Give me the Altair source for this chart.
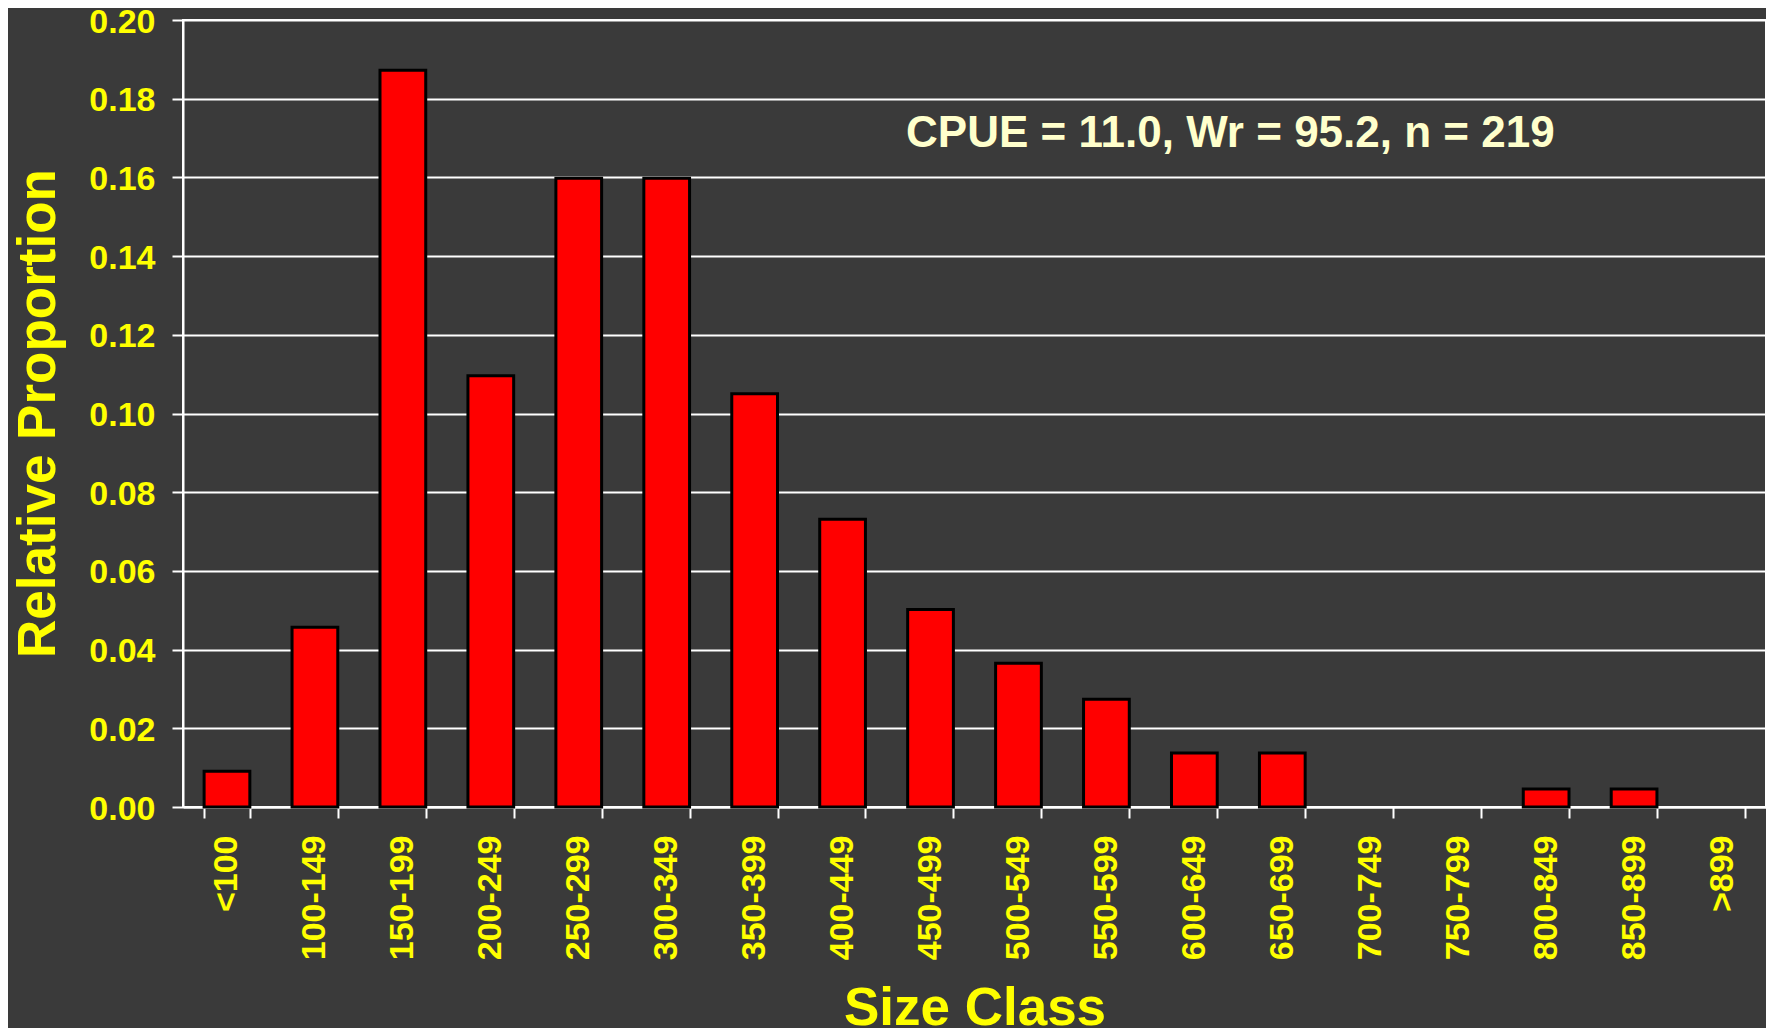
import altair as alt
import pandas as pd

categories = ["<100", "100-149", "150-199", "200-249", "250-299", "300-349",
              "350-399", "400-449", "450-499", "500-549", "550-599", "600-649",
              "650-699", "700-749", "750-799", "800-849", "850-899", ">899"]
proportions = [0.0091, 0.0457, 0.1872, 0.1096, 0.1598, 0.1598,
               0.1050, 0.0731, 0.0502, 0.0365, 0.0274, 0.0137,
               0.0137, 0.0, 0.0, 0.0046, 0.0046, 0.0]
y_ticks = [0.0, 0.02, 0.04, 0.06, 0.08, 0.10, 0.12, 0.14, 0.16, 0.18, 0.20]
annotation_text = ["CPUE = 11.0, Wr = 95.2, n = 219"]
annotation_x = ["600-649"]
annotation_y = [0.171]

FONT = "Liberation Sans"
YELLOW = "#ffff00"

df = pd.DataFrame({"size_class": categories, "proportion": proportions})
ann = pd.DataFrame({"size_class": annotation_x, "proportion": annotation_y,
                    "label": annotation_text})

x_scale = alt.Scale(domain=categories, paddingInner=0.48, paddingOuter=0.24)
y_scale = alt.Scale(domain=[0, 0.2], nice=False)

x_axis = alt.Axis(
    title="Size Class", titleFont=FONT, titleFontSize=53, titleFontWeight="bold",
    titleColor=YELLOW, titleY=217, titleBaseline="alphabetic",
    labelAngle=-90, labelAlign="right", labelBaseline="middle", labelPadding=17,
    labelFont=FONT, labelFontSize=34, labelFontWeight="bold", labelColor=YELLOW,
    tickSize=11, tickWidth=2, tickColor="white", tickBand="extent",
    domainColor="white", domainWidth=2, grid=False,
)
y_axis = alt.Axis(
    title="Relative Proportion", titleFont=FONT, titleFontSize=53,
    titleFontWeight="bold", titleColor=YELLOW, titleX=-145, titleY=393,
    titleBaseline="middle", titleAlign="center", titleAngle=270,
    values=y_ticks, format=".2f",
    labelFont=FONT, labelFontSize=34, labelFontWeight="bold", labelColor=YELLOW,
    labelPadding=17, labelOffset=2, tickSize=11, tickWidth=2, tickColor="white",
    domainColor="white", domainWidth=2,
    grid=True, gridColor="white", gridWidth=2, gridOpacity=1,
)

bars = alt.Chart(df).transform_filter("datum.proportion > 0").mark_bar(
    color="#ff0000", stroke="#000000", strokeWidth=3
).encode(
    x=alt.X("size_class:N", scale=x_scale, sort=categories, axis=x_axis),
    y=alt.Y("proportion:Q", scale=y_scale, axis=y_axis),
)

text = alt.Chart(ann).mark_text(
    font=FONT, fontSize=44, fontWeight="bold", color="#ffffcc",
    align="center", baseline="middle", dx=36
).encode(
    x=alt.X("size_class:N", scale=x_scale, sort=categories),
    y=alt.Y("proportion:Q", scale=y_scale),
    text="label:N",
)

chart = alt.layer(bars, text).properties(
    width=1583, height=787,
    padding={"left": 175, "top": 12, "right": 0, "bottom": 221},
    autosize=alt.AutoSizeParams(type="none"),
).configure(background="#3a3a3a").configure_view(stroke="white", strokeWidth=2)

chart.save("out.html", embed_options={"renderer": "svg", "actions": False})
